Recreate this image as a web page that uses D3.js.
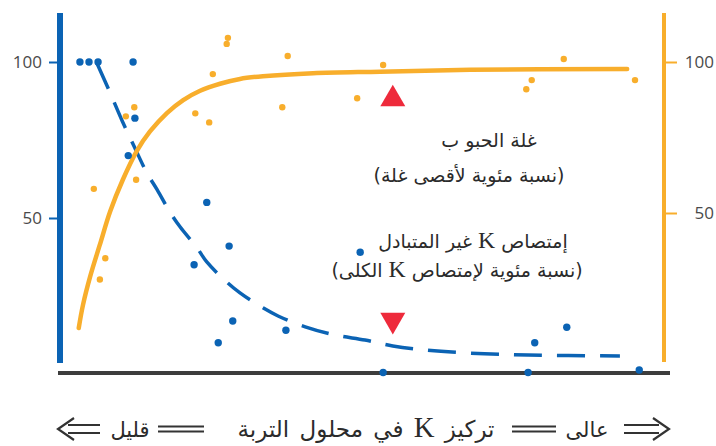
<!DOCTYPE html>
<html><head><meta charset="utf-8">
<script src="https://cdn.jsdelivr.net/npm/d3@7/dist/d3.min.js"></script>
<style>html,body{margin:0;padding:0;background:#fff;}svg{display:block;}</style>
</head><body>
<svg id="chart" width="716" height="446"></svg>
<script>
// ---- data ----
// K absorption points (left axis, % of total K uptake)
const kX = [3.3, 4.8, 6.3, 12.1, 12.4, 11.3, 24.3, 28.0, 22.2, 28.6, 26.2, 37.4, 49.7, 53.5, 78.6, 83.9, 77.5, 95.9];
const kY = [100, 100, 100, 100, 82, 70, 55, 41, 35, 17, 10, 14, 39, 0.5, 10, 15, 0.5, 1.3];
// grain yield points (right axis, % of max yield)
const yieldX = [5.6, 6.6, 7.5, 12.6, 10.9, 12.3, 22.4, 24.7, 25.3, 27.6, 27.8, 37.7, 36.8, 49.2, 53.5, 83.4, 78.1, 77.2, 95.2];
const yieldY = [58, 28, 35, 61, 82, 85, 83, 80, 96, 106, 108, 102, 85, 88, 99, 101, 94, 91, 94];
// fitted curves as drawn
const kCurveX = [6.1, 8.3, 10.3, 12.4, 14.4, 16.1, 18.2, 19.9, 22.7, 24.3, 27.6, 29.8, 33.6, 36.1, 40.6, 45.5, 50.5, 55.1, 60.4, 67.9, 77.5, 92.7];
const kCurveY = [99.7, 90.1, 81.1, 72.4, 64.4, 59.0, 51.9, 47.1, 40.4, 35.9, 29.5, 26.0, 21.2, 18.6, 15.1, 12.5, 10.9, 9.0, 7.7, 6.7, 6.1, 5.8];
const yieldCurveX = [3.1, 3.8, 5.0, 6.6, 8.3, 10.4, 12.7, 14.9, 17.7, 20.4, 23.2, 26.5, 29.8, 33.6, 41.9, 53.0, 67.9, 93.9];
const yieldCurveY = [11.9, 19.5, 29.0, 39.5, 50.5, 61.0, 70.5, 77.0, 83.1, 87.4, 90.5, 92.8, 94.4, 95.3, 96.3, 96.8, 97.4, 97.7];
// critical-level markers
const markerX = [55.1];
const markerYield = [87.7];
const markerK = [17.3];
// tick labels
const leftTicks = [50, 100];
const rightTicks = [50, 100];
// texts
const yieldLabel = ["غلة الحبو ب", "(نسبة مئوية لأقصى غلة)"];
const kLabel = ["إمتصاص K غير المتبادل", "(نسبة مئوية لإمتصاص K الكلى)"];
const axisWords = ["قليل", "تركيز K في محلول التربة", "عالى"];

// ---- drawing ----
const BLUE = "#0b63b4", ORANGE = "#f8ae2c", RED = "#ee2a3b", DARK = "#3d3d3d";
const svg = d3.select("#chart");
const x = d3.scaleLinear().domain([0, 100]).range([60, 664]);
const yL = d3.scaleLinear().domain([0, 100]).range([374, 62]);
const yR = d3.scaleLinear().domain([0, 100]).range([364, 62]);

// axes lines
svg.append("line").attr("x1", 60).attr("x2", 60).attr("y1", 13).attr("y2", 363)
  .attr("stroke", BLUE).attr("stroke-width", 6);
svg.append("line").attr("x1", 664).attr("x2", 664).attr("y1", 13).attr("y2", 362)
  .attr("stroke", ORANGE).attr("stroke-width", 4);

const axL = d3.axisLeft(yL).tickValues(leftTicks).tickSize(8).tickPadding(7);
const gL = svg.append("g").attr("transform", "translate(57,0)").call(axL);
gL.select(".domain").remove();
gL.selectAll(".tick line").attr("stroke", BLUE).attr("stroke-width", 2);
gL.selectAll(".tick text").attr("fill", "#4a4a4a").style("font-family", "Open Sans").style("font-size", "17px");

const axR = d3.axisRight(yR).tickValues(rightTicks).tickSize(13).tickPadding(0);
const gR = svg.append("g").attr("transform", "translate(664,0)").call(axR);
gR.select(".domain").remove();
gR.selectAll(".tick line").attr("stroke", ORANGE).attr("stroke-width", 2);
gR.selectAll(".tick text").attr("fill", "#4a4a4a").style("font-family", "Open Sans").style("font-size", "17px")
  .attr("text-anchor", "end").attr("x", 50);

// bottom axis
svg.append("line").attr("x1", 58).attr("x2", 670).attr("y1", 373).attr("y2", 373)
  .attr("stroke", DARK).attr("stroke-width", 4);

// curves
const kLine = d3.line().x((d, i) => x(kCurveX[i])).y((d, i) => yL(kCurveY[i])).curve(d3.curveCatmullRom);
svg.append("path").attr("d", kLine(kCurveX)).attr("fill", "none").attr("stroke", BLUE)
  .attr("stroke-width", 3.5).attr("stroke-dasharray", "28,15");
const yLine = d3.line().x((d, i) => x(yieldCurveX[i])).y((d, i) => yR(yieldCurveY[i])).curve(d3.curveCatmullRom);
svg.append("path").attr("d", yLine(yieldCurveX)).attr("fill", "none").attr("stroke", ORANGE)
  .attr("stroke-width", 4.5).attr("stroke-linecap", "round");

// points
svg.append("g").selectAll("circle").data(yieldX).join("circle")
  .attr("cx", (d) => x(d)).attr("cy", (d, i) => yR(yieldY[i])).attr("r", 3.2).attr("fill", ORANGE);
svg.append("g").selectAll("circle").data(kX).join("circle")
  .attr("cx", (d) => x(d)).attr("cy", (d, i) => yL(kY[i])).attr("r", 3.7).attr("fill", BLUE);

// markers
const tri = d3.symbol().type(d3.symbolTriangle).size(270);
svg.append("g").selectAll("path").data(markerX).join("path").attr("d", tri)
  .attr("transform", (d, i) => `translate(${x(d)},${yR(markerYield[i])})`).attr("fill", RED);
svg.append("g").selectAll("path").data(markerX).join("path").attr("d", tri)
  .attr("transform", (d, i) => `translate(${x(d)},${yL(markerK[i])}) rotate(180)`).attr("fill", RED);

// arabic text helper
function arabic(str, cx, cy, size, ws) {
  const t = svg.append("text").attr("x", cx).attr("y", cy).attr("direction", "rtl")
    .attr("text-anchor", "middle").attr("fill", "#2b2b2b")
    .style("font-family", "DejaVu Sans").style("font-size", size + "px")
    .style("word-spacing", (ws || 0) + "px");
  const parts = str.split("K");
  parts.forEach((p, i) => {
    t.append("tspan").text(p);
    if (i < parts.length - 1) t.append("tspan").style("font-family", "Liberation Serif")
      .style("font-size", (size * 1.25) + "px").text("K");
  });
  return t;
}
arabic(yieldLabel[0], 489, 147, 19);
arabic(yieldLabel[1], 469, 182, 19);
arabic(kLabel[0], 473, 248, 19);
arabic(kLabel[1], 457, 277, 19);

// bottom caption
const cy = 437;
arabic(axisWords[0], 130, cy, 21);
arabic(axisWords[1], 366, cy, 23, 3);
arabic(axisWords[2], 587, cy, 21);
function dbar(x1, x2) {
  [-2.5, 2.5].forEach(o => svg.append("line").attr("x1", x1).attr("x2", x2)
    .attr("y1", 429 + o).attr("y2", 429 + o).attr("stroke", "#333").attr("stroke-width", 2.2));
}
dbar(158, 204); dbar(512, 556);
function arrow(x0, x1, dir) {
  const tip = dir > 0 ? x1 : x0;
  const base = dir > 0 ? x0 : x1;
  const headBase = tip - dir * 14;
  const p = d3.path();
  p.moveTo(base, 425); p.lineTo(headBase + dir * 4, 425);
  p.moveTo(base, 433); p.lineTo(headBase + dir * 4, 433);
  p.moveTo(headBase - dir * 2, 418); p.lineTo(tip, 429); p.lineTo(headBase - dir * 2, 440);
  svg.append("path").attr("d", p.toString()).attr("fill", "none").attr("stroke", "#333")
    .attr("stroke-width", 2.2).attr("stroke-linejoin", "miter");
}
arrow(58, 100, -1);
arrow(624, 669, 1);
</script>
</body></html>
